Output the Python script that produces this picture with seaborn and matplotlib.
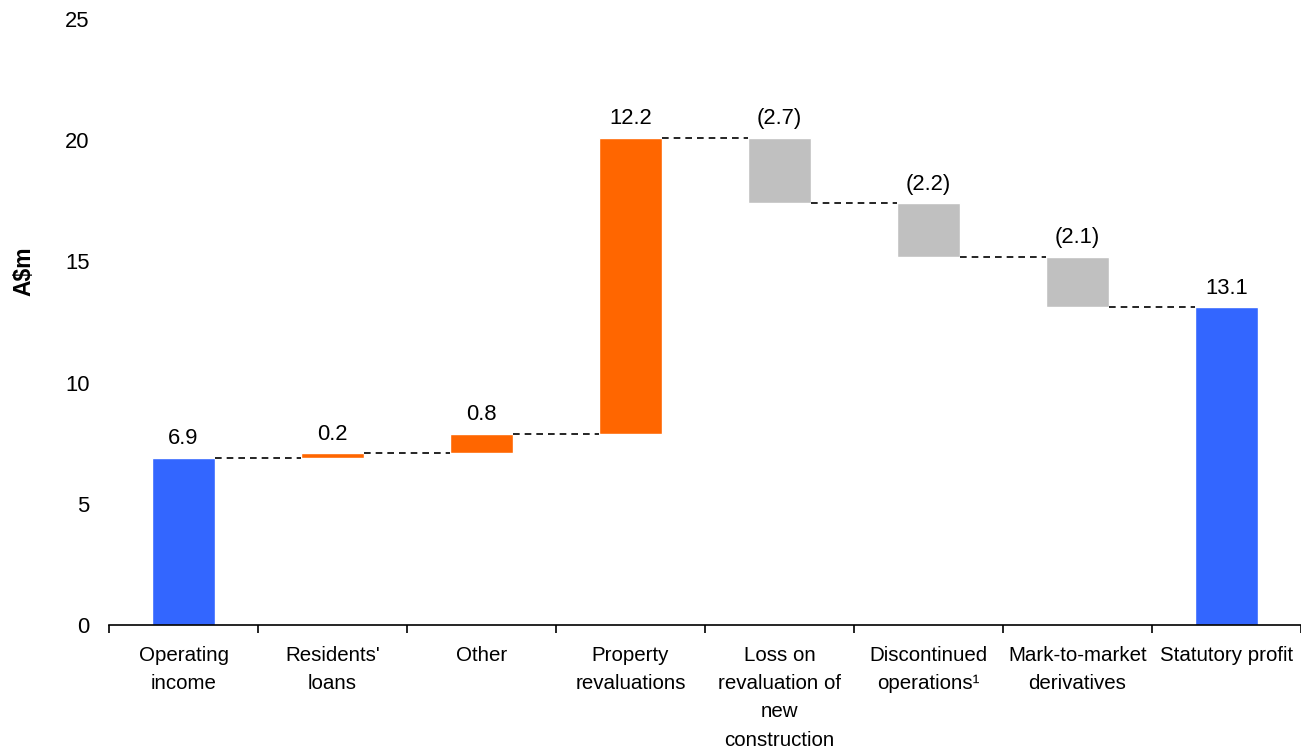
import numpy as np
import pandas as pd
import matplotlib
matplotlib.use("Agg")
import matplotlib.pyplot as plt
import seaborn as sns

# waterfall data (A$m)
categories = ["Operating\nincome", "Residents'\nloans", "Other", "Property\nrevaluations",
              "Loss on\nrevaluation of\nnew\nconstruction", "Discontinued\noperations\u00b9",
              "Mark-to-market\nderivatives", "Statutory profit"]
changes = [6.9, 0.2, 0.8, 12.2, -2.7, -2.2, -2.1, 13.1]
kinds = ["total", "up", "up", "up", "down", "down", "down", "total"]
value_labels = ["6.9", "0.2", "0.8", "12.2", "(2.7)", "(2.2)", "(2.1)", "13.1"]

kind_colors = {"total": "#3366FF", "up": "#FF6600", "down": "#C0C0C0"}

# floating bar bottoms/tops
bottoms, tops = [], []
level = 0.0
for ch, k in zip(changes, kinds):
    if k == "total":
        b, t = 0.0, ch
        level = ch
    else:
        new = level + ch
        b, t = min(level, new), max(level, new)
        level = new
    bottoms.append(b)
    tops.append(t)

df = pd.DataFrame({"category": categories, "bottom": bottoms, "top": tops,
                   "kind": kinds, "label": value_labels})
df["height"] = df["top"] - df["bottom"]

sns.set_style("white", {"text.color": "black", "axes.labelcolor": "black",
                        "xtick.color": "black", "ytick.color": "black"})
plt.rcParams["font.family"] = ["Liberation Sans", "DejaVu Sans"]
fs = 14.8      # category labels
fs_num = 15.8  # numbers

fig = plt.figure(figsize=(13.01, 7.52), dpi=100)
ax = fig.add_axes([109 / 1301, 1 - 625 / 752, 1 - 109 / 1301, 606 / 752])

bar_w = 0.42
for _, row in df.iterrows():
    sns.barplot(x=[row["category"]], y=[row["height"]], order=categories,
                bottom=row["bottom"], color=kind_colors[row["kind"]],
                width=bar_w, saturation=1, ax=ax)

# connectors
for i in range(len(df) - 1):
    lvl = df["top"][i] if changes[i] > 0 else df["bottom"][i]
    ax.plot([i + bar_w / 2, i + 1 - bar_w / 2], [lvl, lvl], color="black",
            linestyle=(0, (4, 3)), linewidth=1.2)

# value labels
for i, row in df.iterrows():
    ax.annotate(row["label"], (i, row["top"]), xytext=(0, 6), textcoords="offset points",
                ha="center", va="bottom", fontsize=fs_num)

ax.set_ylim(0, 25)
ax.set_xlim(-0.5, len(categories) - 0.5)
ax.set_yticks(np.arange(0, 26, 5))
ax.tick_params(axis="y", length=0, pad=14, labelsize=fs_num)

ax.set_xticks(np.arange(-0.5, len(categories), 1))
ax.set_xticklabels([])
ax.set_xticks(np.arange(len(categories)), minor=True)
ax.set_xticklabels(categories, minor=True, fontsize=fs, linespacing=1.62)
ax.tick_params(axis="x", which="major", direction="out", length=6, width=1.2, color="black", bottom=True)
ax.tick_params(axis="x", which="minor", length=0, pad=15)

for s in ["left", "right", "top"]:
    ax.spines[s].set_visible(False)
ax.spines["bottom"].set_color("black")
ax.spines["bottom"].set_linewidth(1.2)

ax.set_xlabel("")
ax.set_ylabel("A$m", fontsize=16.5, fontweight="bold")
ax.yaxis.set_label_coords(-0.062, 0.584)

fig.savefig("out.png", dpi=100)
